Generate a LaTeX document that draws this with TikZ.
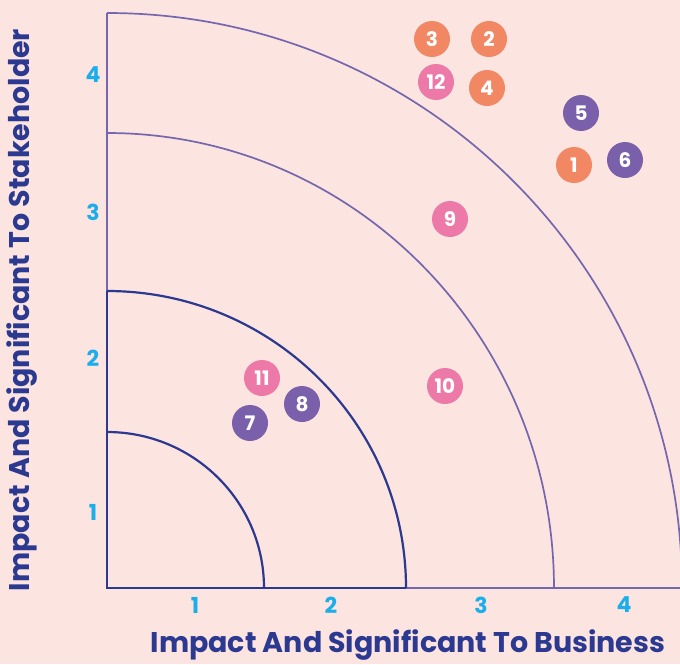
\documentclass[tikz,border=0pt]{standalone}
\usepackage{fontspec}
\setmainfont{Poppins}
\definecolor{bgpink}{HTML}{FCE4E0}
\definecolor{navy}{HTML}{2B3990}
\definecolor{lilac}{HTML}{7467AE}
\definecolor{tickblue}{HTML}{1BAEEA}
\definecolor{dotorange}{HTML}{F28764}
\definecolor{dotpink}{HTML}{EC79A8}
\definecolor{dotpurple}{HTML}{7A60AA}
\tikzset{
    dot/.style={circle, minimum size=36pt, inner sep=0pt, text=white,
        font=\fontsize{20}{20}\selectfont\bfseries},
    tick/.style={text=tickblue, font=\fontsize{22}{22}\selectfont\bfseries},
    axislabel/.style={text=navy, font=\fontsize{28.5}{30}\selectfont\bfseries}
}
\begin{document}
\begin{tikzpicture}[x=1pt, y=-1pt]
    % Background
    \fill[bgpink] (0,0) rectangle (680,664);
    \useasboundingbox (0,0) rectangle (680,664);

    % Origin of the quadrants
    \coordinate (O) at (107,588);

    % Draw the outer arcs
    \draw[lilac, line width=1.7pt] (107,13) -- (107,291);
    \draw[lilac, line width=1.7pt] (406,588) -- (690,588);
    \draw[lilac, line width=1.7pt] (107,13) arc[start angle=-90, end angle=0, x radius=575, y radius=575];
    \draw[lilac, line width=1.7pt] (107,133) arc[start angle=-90, end angle=0, x radius=447, y radius=455];

    % Draw the inner arcs and the axes near the origin
    \draw[navy, line width=2.2pt] (107,291) -- (O) -- (406,588);
    \draw[navy, line width=2.2pt] (107,291) arc[start angle=-90, end angle=0, x radius=299, y radius=297];
    \draw[navy, line width=2.2pt] (107,432) arc[start angle=-90, end angle=0, x radius=157, y radius=156];

    % Tick labels on the x axis
    \node[tick] (x1) at (195,605) {1};
    \node[tick] (x2) at (331,605) {2};
    \node[tick] (x3) at (481,605) {3};
    \node[tick] (x4) at (624,605) {4};

    % Tick labels on the y axis
    \node[tick] (y1) at (93,512) {1};
    \node[tick] (y2) at (93,358) {2};
    \node[tick] (y3) at (93,212) {3};
    \node[tick] (y4) at (93,75) {4};

    % Axis titles
    \node[axislabel] (xtitle) at (408,645) {Impact And Significant To Business};
    \node[axislabel, rotate=90] (ytitle) at (22,310) {Impact And Significant To Stakeholder};

    % Orange points
    \node[dot, fill=dotorange] (p1) at (574,165) {1};
    \node[dot, fill=dotorange] (p2) at (489,39) {2};
    \node[dot, fill=dotorange] (p3) at (432,39) {3};
    \node[dot, fill=dotorange] (p4) at (487,88) {4};

    % Purple points
    \node[dot, fill=dotpurple] (p5) at (581,113) {5};
    \node[dot, fill=dotpurple] (p6) at (625,160) {6};
    \node[dot, fill=dotpurple] (p7) at (250,423) {7};
    \node[dot, fill=dotpurple] (p8) at (302,404) {8};

    % Pink points
    \node[dot, fill=dotpink] (p9) at (450,219) {9};
    \node[dot, fill=dotpink] (p10) at (445,386) {10};
    \node[dot, fill=dotpink] (p11) at (262,378) {11};
    \node[dot, fill=dotpink] (p12) at (436,82) {12};

\end{tikzpicture}
\end{document}
